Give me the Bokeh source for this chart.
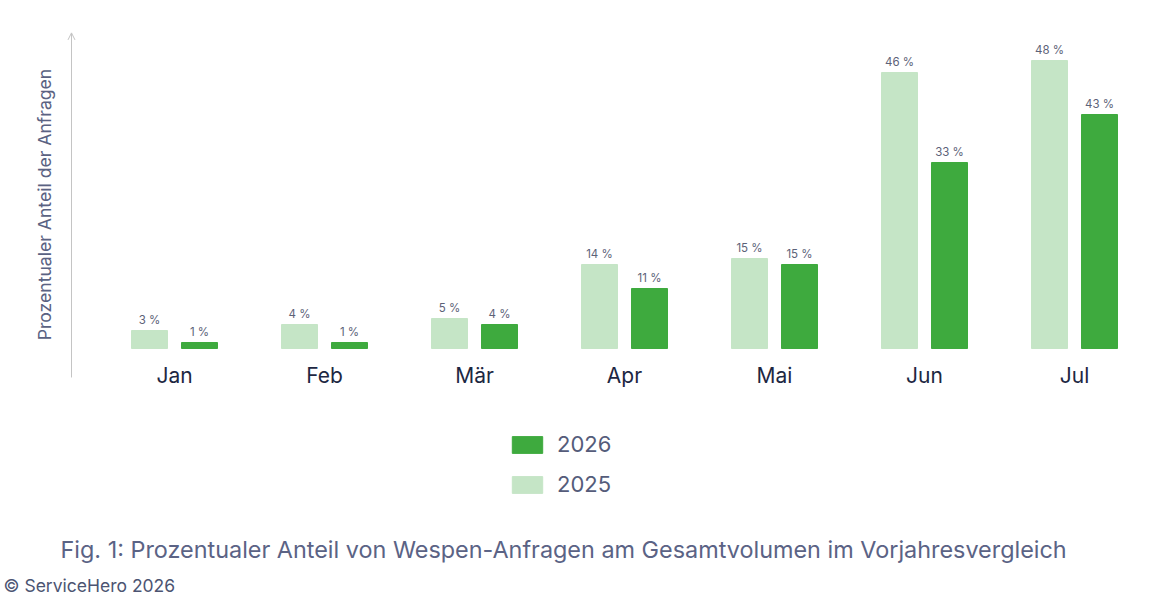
from bokeh.plotting import figure
from bokeh.models import ColumnDataSource, Legend, LegendItem, Arrow, OpenHead, Label, Range1d
from bokeh.core.properties import value
from bokeh.embed import file_html
from bokeh.resources import INLINE

months = ["Jan", "Feb", "Mär", "Apr", "Mai", "Jun", "Jul"]
vals_2025 = [3, 4, 5, 14, 15, 46, 48]
vals_2026 = [1, 1, 4, 10, 14, 31, 39]
labels_2025 = ["3 %", "4 %", "5 %", "14 %", "15 %", "46 %", "48 %"]
labels_2026 = ["1 %", "1 %", "4 %", "11 %", "15 %", "33 %", "43 %"]
series_names = ["2026", "2025"]

FONT = "Inter"
C25 = "#c5e5c6"
C26 = "#3eaa3e"

W, H = 1133, 598
X0, Y0, PX, PY = 174, 348, 150, 6
p = figure(width=W, height=H, output_backend="svg", toolbar_location=None,
           x_range=Range1d(-X0 / PX, (W - X0) / PX),
           y_range=Range1d((Y0 - H) / PY, Y0 / PY),
           min_border=0, min_border_left=0, min_border_right=0,
           min_border_top=0, min_border_bottom=0)
p.axis.visible = False
p.grid.visible = False
p.outline_line_color = None
p.background_fill_color = "white"
p.border_fill_color = "white"

idx = list(range(len(months)))
src = ColumnDataSource(dict(
    x25=[i - 1 / 6 for i in idx], x26=[i + 1 / 6 for i in idx], xc=idx,
    v25=vals_2025, v26=vals_2026, l25=labels_2025, l26=labels_2026,
    m=months, ym=[-4.5] * len(idx)))

r25 = p.vbar(x="x25", top="v25", bottom=0, width=0.24, color=C25, source=src)
r26 = p.vbar(x="x26", top="v26", bottom=0, width=0.24, color=C26, source=src)

common = dict(text_font=value(FONT), text_font_size="11.5px", text_color="#5c6278",
              text_align="center", text_baseline="alphabetic", y_offset=-11)
p.text(x="x25", y="v25", text="l25", source=src, **common)
p.text(x="x26", y="v26", text="l26", source=src, **common)

p.text(x="xc", y="ym", text="m", source=src, text_font=value(FONT),
       text_font_size="21px", text_color="#1d2742", text_align="center",
       text_baseline="middle")

# vertical axis line with arrow
p.add_layout(Arrow(end=OpenHead(size=7, line_color="#c4c4c4", line_width=1),
                   x_start=-0.6867, y_start=-4.83, x_end=-0.6867, y_end=52.6,
                   line_color="#c4c4c4", line_width=1))

p.add_layout(Label(x=-0.8667, y=24, text="Prozentualer Anteil der Anfragen",
                   angle=1.5707963, text_align="center", text_baseline="middle",
                   text_font=FONT, text_font_size="17.6px", text_color="#5a6282"))

p.add_layout(Label(x=-0.76, y=-33.5, text="Fig. 1: Prozentualer Anteil von Wespen-Anfragen am Gesamtvolumen im Vorjahresvergleich",
                   text_align="left", text_baseline="middle",
                   text_font=FONT, text_font_size="23.4px", text_color="#5b6385"))

p.add_layout(Label(x=-171 / 150, y=(Y0 - 595) / PY, text="© ServiceHero 2026",
                   text_align="left", text_baseline="bottom",
                   text_font=FONT, text_font_size="17.5px", text_color="#4c5472"))

legend = Legend(items=[LegendItem(label=series_names[0], renderers=[r26]),
                       LegendItem(label=series_names[1], renderers=[r25])],
                location=(508, 101), orientation="vertical",
                glyph_width=38, glyph_height=21, label_height=21,
                spacing=14, padding=0, margin=0, label_standoff=11,
                border_line_color=None, background_fill_alpha=0,
                label_text_font=FONT, label_text_font_size="22px",
                label_text_color="#555c7a")
p.add_layout(legend, "center")

open("out.html", "w").write(file_html(p, INLINE))
